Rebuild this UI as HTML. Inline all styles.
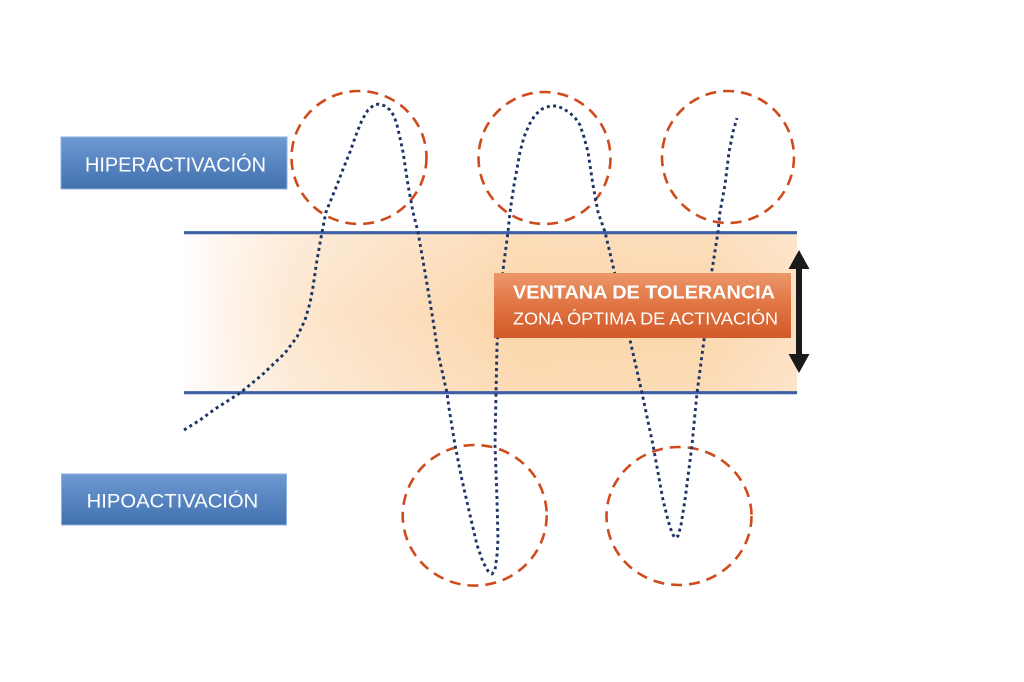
<!DOCTYPE html>
<html>
<head>
<meta charset="utf-8">
<style>
  html, body { margin: 0; padding: 0; background: #ffffff; }
  body { width: 1024px; height: 682px; overflow: hidden; }
  svg { display: block; }
</style>
</head>
<body>
<svg width="1024" height="682" viewBox="0 0 1024 682" xmlns="http://www.w3.org/2000/svg">
  <defs>
    <linearGradient id="band" x1="184" y1="0" x2="797" y2="0" gradientUnits="userSpaceOnUse">
      <stop offset="0" stop-color="#ffffff"/>
      <stop offset="0.06" stop-color="#fef5ec"/>
      <stop offset="0.18" stop-color="#fde7d0"/>
      <stop offset="0.35" stop-color="#fcdebe"/>
      <stop offset="0.55" stop-color="#fbd5a8"/>
      <stop offset="0.85" stop-color="#fbd6ab"/>
      <stop offset="1" stop-color="#fde0c0"/>
    </linearGradient>
    <linearGradient id="bandv" x1="0" y1="234" x2="0" y2="392" gradientUnits="userSpaceOnUse">
      <stop offset="0" stop-color="#ffffff" stop-opacity="0.2"/>
      <stop offset="0.5" stop-color="#ffffff" stop-opacity="0"/>
      <stop offset="1" stop-color="#ffffff" stop-opacity="0.15"/>
    </linearGradient>
    <linearGradient id="blue" x1="0" y1="0" x2="0" y2="1">
      <stop offset="0" stop-color="#6e99d3"/>
      <stop offset="1" stop-color="#4171af"/>
    </linearGradient>
    <linearGradient id="orange" x1="0" y1="0" x2="0" y2="1">
      <stop offset="0" stop-color="#ec976b"/>
      <stop offset="0.5" stop-color="#e07442"/>
      <stop offset="1" stop-color="#d2592a"/>
    </linearGradient>
  </defs>

  <!-- band -->
  <rect x="184" y="233" width="613" height="160" fill="url(#band)"/>
  <rect x="184" y="233" width="613" height="160" fill="url(#bandv)"/>
  <line x1="184" y1="232.7" x2="797" y2="232.7" stroke="#3c5fa8" stroke-width="3.2"/>
  <line x1="184" y1="392.7" x2="797" y2="392.7" stroke="#3c5fa8" stroke-width="3.2"/>

  <!-- dashed circles -->
  <g fill="none" stroke="#cf4b1c" stroke-width="2.6" stroke-dasharray="11 7">
    <ellipse cx="359" cy="157.5" rx="67.5" ry="66.5"/>
    <ellipse cx="544.5" cy="158" rx="66" ry="66"/>
    <ellipse cx="728" cy="157" rx="66" ry="66"/>
    <ellipse cx="474.7" cy="515.3" rx="72" ry="70.3"/>
    <ellipse cx="679" cy="516" rx="72.5" ry="69"/>
  </g>

  <!-- dotted curve -->
  <polyline fill="none" stroke="#1c3566" stroke-width="2.9" stroke-dasharray="3 3.4" stroke-linejoin="round"
    points="184,430 200,420 215,409 240,393 262,375 285,353 297,337 305,320 310,303 313,287 317,260 322,232 326,212 331.5,198.5 337,185 343.5,168 350,152 356,135 362,120 368,110 374,105 379,104 385,106 390,110 394,116 397,125 400,138 403,152 408,185 413,212 418,232 426,278 433,320 438,353 447,393 449,408 455,445 462,480 470,515 477,545 483,562 488,571 492,574 495,570 497,555 498,540 497,500 495,445 496,393 497,345 503,270 508,232 510,212 514,185 520,152 524,137 529,125 535,115 542,109 550,106 557,106 564,109 571,114 576,119 580,125 584,137 588,152 593,185 598,212 605,232 614,270 630,340 642,393 653,445 663,500 668,520 672,533 675,538 678,536 681,525 685,500 692,445 697,393 704,340 712,270 718,232 720,212 725,185 729,152 733,132 737,118"/>

  <!-- orange label box -->
  <rect x="494" y="273" width="297" height="65" fill="url(#orange)"/>
  <text x="513" y="298.3" font-family="Liberation Sans, sans-serif" font-weight="bold" font-size="18.5" fill="#ffffff" textLength="262" lengthAdjust="spacingAndGlyphs">VENTANA DE TOLERANCIA</text>
  <text x="513" y="324.3" font-family="Liberation Sans, sans-serif" font-size="17.5" fill="#ffffff" textLength="265" lengthAdjust="spacingAndGlyphs">ZONA ÓPTIMA DE ACTIVACIÓN</text>

  <!-- double arrow -->
  <g fill="#1a1a1a">
    <polygon points="799,250 809.5,269 788.5,269"/>
    <rect x="796" y="267" width="6" height="89"/>
    <polygon points="788.5,354 809.5,354 799,373"/>
  </g>

  <!-- blue boxes -->
  <rect x="61" y="137" width="226" height="52" fill="url(#blue)" stroke="#8eb0de" stroke-width="1"/>
  <text x="85" y="171.7" font-family="Liberation Sans, sans-serif" font-size="20.5" fill="#ffffff" textLength="181" lengthAdjust="spacingAndGlyphs">HIPERACTIVACIÓN</text>

  <rect x="61.5" y="474" width="225" height="51" fill="url(#blue)" stroke="#8eb0de" stroke-width="1"/>
  <text x="86.7" y="507.7" font-family="Liberation Sans, sans-serif" font-size="19.5" fill="#ffffff" textLength="171.6" lengthAdjust="spacingAndGlyphs">HIPOACTIVACIÓN</text>
</svg>
</body>
</html>
